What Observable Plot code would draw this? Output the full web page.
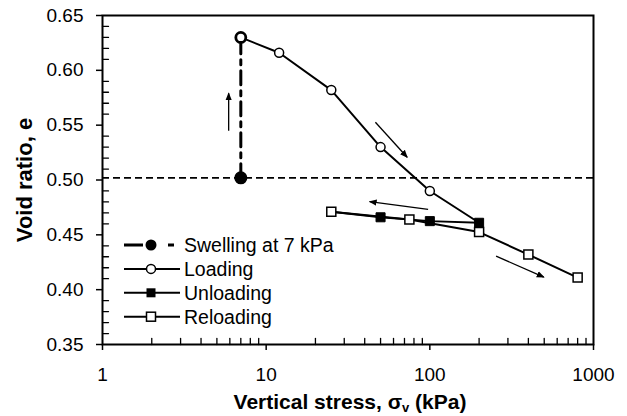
<!DOCTYPE html>
<html><head><meta charset="utf-8">
<script src="https://cdn.jsdelivr.net/npm/d3@7"></script>
<script src="https://cdn.jsdelivr.net/npm/@observablehq/plot@0.6"></script>
<style>
body{margin:0;background:#fff;}
#chart{width:627px;height:416px;}
</style></head><body><div id="chart"></div>
<script>
// ---- data ----
const swellStress = [7, 7];
const swellVoid = [0.502, 0.630];
const loadStress = [7, 12, 25, 50, 100, 200];
const loadVoid = [0.630, 0.616, 0.582, 0.530, 0.490, 0.461];
const unloadStress = [200, 100, 50, 25];
const unloadVoid = [0.461, 0.4625, 0.466, 0.471];
const reloadStress = [25, 75, 200, 400, 800];
const reloadVoid = [0.471, 0.464, 0.4525, 0.432, 0.411];
const refVoid = [0.502];
// annotation arrows (data coords)
const arrowX1 = [5.9, 46.5, 97.6, 254];
const arrowY1 = [0.545, 0.5527, 0.4732, 0.4306];
const arrowX2 = [5.9, 72.7, 42.9, 497];
const arrowY2 = [0.579, 0.5208, 0.4802, 0.4115];
// ticks
const xTicks = [1, 10, 100, 1000];
const xMinor = [2,3,4,5,6,7,8,9,20,30,40,50,60,70,80,90,200,300,400,500,600,700,800,900];
const yTicks = [0.35, 0.40, 0.45, 0.50, 0.55, 0.60, 0.65];
const yMinor = [0.36,0.37,0.38,0.39,0.41,0.42,0.43,0.44,0.46,0.47,0.48,0.49,0.51,0.52,0.53,0.54,0.56,0.57,0.58,0.59,0.61,0.62,0.63,0.64];
const legendLabels = ["Swelling at 7 kPa", "Loading", "Unloading", "Reloading"];
const xTitle = "Vertical stress, σ";
const xTitleSub = "v";
const xTitleEnd = " (kPa)";
const yTitle = "Void ratio, e";

const FONT = "Arial, 'Liberation Sans', Helvetica, sans-serif";
const idx = a => a.map((_, i) => i);

const arrowMarker = (color, context) => {
  const m = d3.create("svg:marker")
    .attr("viewBox", "0 -4 8 8")
    .attr("markerWidth", 8).attr("markerHeight", 8)
    .attr("markerUnits", "userSpaceOnUse")
    .attr("refX", 7).attr("refY", 0)
    .attr("orient", "auto");
  m.append("path").attr("d", "M0,-3.2L8,0L0,3.2Z").attr("fill", "black").attr("stroke", "none");
  return m.node();
};
const tickShape = {draw(context, l) { context.moveTo(0, 0); context.lineTo(0, -l); }};

const plot = Plot.plot({
  width: 627, height: 416,
  marginLeft: 102, marginRight: 34, marginTop: 15, marginBottom: 72,
  style: {fontFamily: FONT, fontSize: "19px", color: "#000", background: "#fff", overflow: "visible"},
  x: {type: "log", domain: [1, 1000]},
  y: {domain: [0.35, 0.65]},
  marks: [
    Plot.axisY(yTicks, {tickSize: 6, tickPadding: 13, tickFormat: d3.format(".2f"), label: null, strokeWidth: 1.5, stroke: "black"}),
    Plot.axisX(xTicks, {tickSize: 6, tickPadding: 17, tickFormat: d => String(d), label: null, strokeWidth: 1.5, stroke: "black"}),
    Plot.vector(yMinor, {y: d => d, frameAnchor: "left", length: 6, rotate: 90, anchor: "start", shape: tickShape, stroke: "black", strokeWidth: 1.3}),
    Plot.vector(xMinor, {x: d => d, frameAnchor: "bottom", length: 6, rotate: 0, anchor: "start", shape: tickShape, stroke: "black", strokeWidth: 1.3}),
    Plot.ruleY(refVoid, {stroke: "black", strokeWidth: 1.8, strokeDasharray: "7,4"}),
    Plot.line(idx(swellStress), {x: i => swellStress[i], y: i => swellVoid[i], stroke: "black", strokeWidth: 3, strokeDasharray: "14,6,5,6"}),
    Plot.line(idx(loadStress), {x: i => loadStress[i], y: i => loadVoid[i], stroke: "black", strokeWidth: 2}),
    Plot.line(idx(unloadStress), {x: i => unloadStress[i], y: i => unloadVoid[i], stroke: "black", strokeWidth: 2}),
    Plot.line(idx(reloadStress), {x: i => reloadStress[i], y: i => reloadVoid[i], stroke: "black", strokeWidth: 2}),
    Plot.link(idx(arrowX1), {x1: i => arrowX1[i], y1: i => arrowY1[i], x2: i => arrowX2[i], y2: i => arrowY2[i], stroke: "black", strokeWidth: 1.3, markerEnd: arrowMarker}),
    Plot.dot(idx(reloadStress), {x: i => reloadStress[i], y: i => reloadVoid[i], symbol: "square", r: 5.1, fill: "white", stroke: "black", strokeWidth: 1.5}),
    Plot.dot(idx(unloadStress).filter(i => i < 3), {x: i => unloadStress[i], y: i => unloadVoid[i], symbol: "square", r: 5.1, fill: "black", stroke: "black", strokeWidth: 1}),
    Plot.dot(idx(loadStress).filter(i => i > 0 && i < 5), {x: i => loadStress[i], y: i => loadVoid[i], r: 4.5, fill: "white", stroke: "black", strokeWidth: 1.5}),
    Plot.dot([0], {x: i => loadStress[i], y: i => loadVoid[i], r: 5, fill: "white", stroke: "black", strokeWidth: 2.8}),
    Plot.dot([0], {x: i => swellStress[i], y: i => swellVoid[i], r: 5.8, fill: "black", stroke: "black"}),
    Plot.frame({stroke: "black", strokeWidth: 2})
  ]
});

const svg = d3.select(plot);
// axis titles
const xt = svg.append("text")
  .attr("x", 350).attr("y", 409)
  .attr("text-anchor", "middle")
  .attr("font-family", FONT).attr("font-size", "21px").attr("font-weight", "bold").attr("fill", "black");
xt.append("tspan").text(xTitle);
xt.append("tspan").attr("font-size", "13px").attr("dy", "3").text(xTitleSub);
xt.append("tspan").attr("dy", "-3").text(xTitleEnd);
svg.append("text")
  .attr("transform", "translate(32,180) rotate(-90)")
  .attr("text-anchor", "middle")
  .attr("font-family", FONT).attr("font-size", "22px").attr("font-weight", "bold").attr("fill", "black")
  .text(yTitle);

// legend
const lg = svg.append("g").attr("font-family", FONT).attr("font-size", "19.5px").attr("fill", "black").attr("text-anchor", "start");
legendLabels.forEach((lab, i) => {
  const y = 245 + i * 23.9;
  const g = lg.append("g");
  g.append("line").attr("x1", 124).attr("x2", 180).attr("y1", y).attr("y2", y)
    .attr("stroke", "black").attr("stroke-width", i === 0 ? 3 : 2)
    .attr("stroke-dasharray", i === 0 ? "19,25,6,20" : null);
  if (i === 0) g.append("circle").attr("cx", 151).attr("cy", y).attr("r", 5.5).attr("fill", "black");
  if (i === 1) g.append("circle").attr("cx", 151).attr("cy", y).attr("r", 4.5).attr("fill", "white").attr("stroke", "black").attr("stroke-width", 1.5);
  if (i === 2) g.append("rect").attr("x", 146.5).attr("y", y - 4.5).attr("width", 9).attr("height", 9).attr("fill", "black");
  if (i === 3) g.append("rect").attr("x", 146.5).attr("y", y - 4.5).attr("width", 9).attr("height", 9).attr("fill", "white").attr("stroke", "black").attr("stroke-width", 1.5);
  g.append("text").attr("x", 184).attr("y", y).attr("dy", "0.35em").attr("text-anchor", "start").text(lab);
});

document.getElementById("chart").appendChild(plot);
</script>
</body></html>
